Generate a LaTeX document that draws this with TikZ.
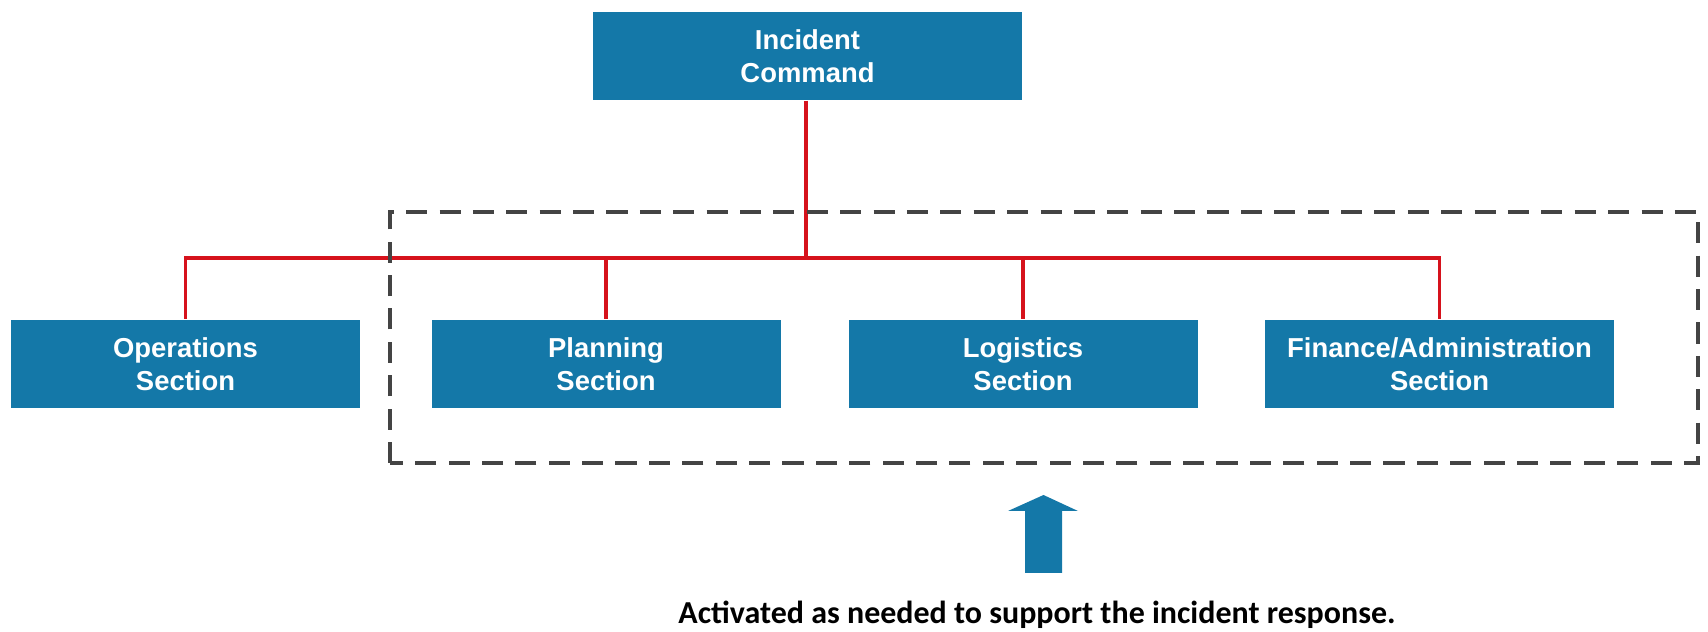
\documentclass[tikz,border=0pt]{standalone}
\usepackage{fontspec}
\setmainfont{Liberation Sans}
\newfontfamily\notefont{Carlito}
\definecolor{icsblue}{RGB}{20,120,168}
\definecolor{icsred}{RGB}{214,18,28}
\definecolor{dashgray}{RGB}{68,68,68}
\begin{document}
\begin{tikzpicture}
      \useasboundingbox (0,0) rectangle (17.08,6.32);
      \begin{scope}[every node/.style={fill=icsblue,text=white,align=center,
          minimum height=0.88cm,inner sep=0pt,
          font=\fontsize{7.8}{9.4}\selectfont\bfseries}]
        \node[minimum width=4.29cm] (ic) at (8.075,5.76) {Incident\\Command};
        \node[minimum width=3.49cm] (ops) at (1.855,2.68) {Operations\\Section};
        \node[minimum width=3.49cm] (plan) at (6.06,2.68) {Planning\\Section};
        \node[minimum width=3.49cm] (log) at (10.23,2.68) {Logistics\\Section};
        \node[minimum width=3.49cm] (fin) at (14.395,2.68) {Finance/Administration\\Section};
      \end{scope}
      \coordinate (bus) at (8.06,3.74);
      \begin{scope}[every path/.style={draw=icsred,line width=1.1pt}]
        \path (ic.south -| bus) -- (bus);
        \path (bus) -| (ops.north);
        \path (bus) -| (plan.north);
        \path (bus) -| (log.north);
        \path (bus) -| (fin.north);
      \end{scope}
      \draw[dashgray,line width=1pt,dash pattern=on 6pt off 3.5pt]
        (3.90,1.69) rectangle (16.98,4.20);
      \fill[icsblue] (10.25,0.59) -- (10.62,0.59) -- (10.62,1.21) -- (10.78,1.21)
        -- (10.435,1.37) -- (10.08,1.21) -- (10.25,1.21) -- cycle;
      \node[font=\notefont\fontsize{9.1}{11}\selectfont\bfseries] (note) at (10.37,0.17)
        {Activated as needed to support the incident response.};
    \end{tikzpicture}
\end{document}
